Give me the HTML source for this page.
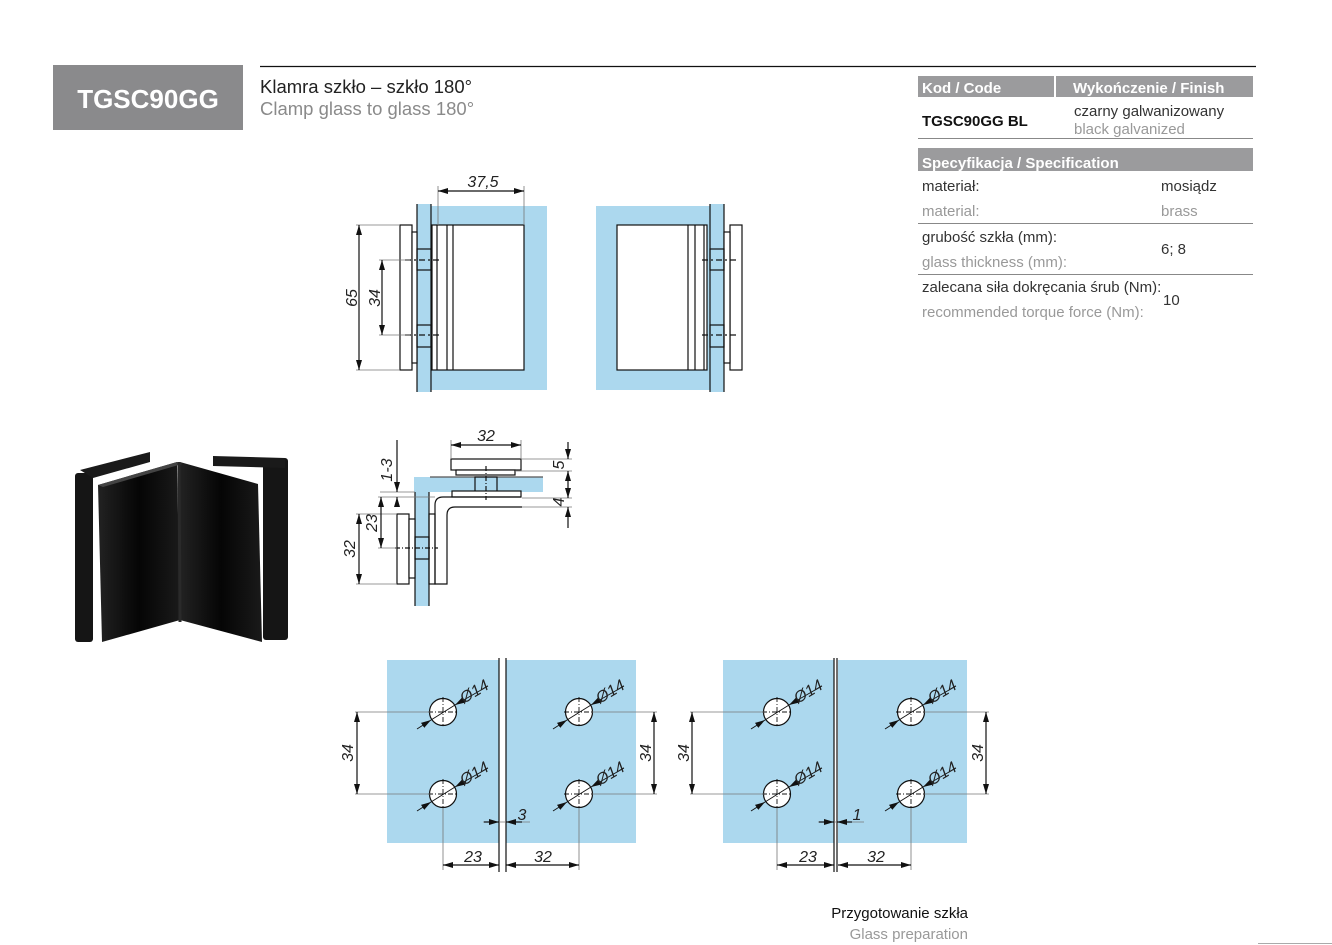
<!DOCTYPE html>
<html><head><meta charset="utf-8"><style>
html,body{margin:0;padding:0;background:#fff;}
svg{display:block;}
text{font-family:"Liberation Sans",sans-serif;}
.d{font-style:italic;font-size:16px;fill:#222;}
</style></head><body>
<svg width="1332" height="945" viewBox="0 0 1332 945" xmlns="http://www.w3.org/2000/svg">
<defs>
<marker id="a" markerWidth="10" markerHeight="6" refX="10" refY="3" orient="auto-start-reverse" markerUnits="userSpaceOnUse"><path d="M0,0 L10,3 L0,6 z" fill="#111"/></marker>
<linearGradient id="g1" x1="0" x2="1"><stop offset="0" stop-color="#222"/><stop offset="0.5" stop-color="#050505"/><stop offset="1" stop-color="#1a1a1a"/></linearGradient>
</defs>
<!-- header -->
<line x1="260" y1="66.5" x2="1256" y2="66.5" stroke="#111" stroke-width="1.2"/>
<rect x="53" y="65" width="190" height="65" fill="#8a8a8c"/>
<text x="148" y="108" font-size="26" font-weight="bold" fill="#fff" text-anchor="middle">TGSC90GG</text>
<text x="260" y="93" font-size="18.5" fill="#222">Klamra szkło – szkło 180°</text>
<text x="260" y="115" font-size="18.5" fill="#8a8a8a">Clamp glass to glass 180°</text>
<!-- table -->
<rect x="918" y="76" width="335" height="21" fill="#9b9b9d"/>
<rect x="1054" y="76" width="2" height="21" fill="#fff"/>
<text x="922" y="93" font-size="15" font-weight="bold" fill="#fff">Kod / Code</text>
<text x="1073" y="93" font-size="15" font-weight="bold" fill="#fff">Wykończenie / Finish</text>
<text x="922" y="126" font-size="15" font-weight="bold" fill="#111">TGSC90GG BL</text>
<text x="1074" y="116" font-size="15" fill="#333">czarny galwanizowany</text>
<text x="1074" y="134" font-size="15" fill="#999">black galvanized</text>
<line x1="918" y1="138.5" x2="1253" y2="138.5" stroke="#888"/>
<rect x="918" y="148" width="335" height="23" fill="#9b9b9d"/>
<text x="922" y="168" font-size="15" font-weight="bold" fill="#fff">Specyfikacja / Specification</text>
<g font-size="15">
<text x="922" y="191" fill="#333">materiał:</text><text x="1161" y="191" fill="#333">mosiądz</text>
<text x="922" y="216" fill="#999">material:</text><text x="1161" y="216" fill="#999">brass</text>
<text x="922" y="242" fill="#333">grubość szkła (mm):</text><text x="1161" y="254" fill="#333">6; 8</text>
<text x="922" y="267" fill="#999">glass thickness (mm):</text>
<text x="922" y="292" fill="#333">zalecana siła dokręcania śrub (Nm):</text><text x="1163" y="305" fill="#333">10</text>
<text x="922" y="317" fill="#999">recommended torque force (Nm):</text>
</g>
<line x1="918" y1="223.5" x2="1253" y2="223.5" stroke="#888"/>
<line x1="918" y1="274.5" x2="1253" y2="274.5" stroke="#888"/>

<!-- front view left -->
<g stroke="#111" stroke-width="1.2" fill="none">
<rect x="431" y="206" width="116" height="184" fill="#acd8ee" stroke="none"/>
<rect x="417" y="204" width="14" height="188" fill="#acd8ee" stroke="none"/>
<line x1="417" y1="204" x2="417" y2="392"/><line x1="431" y1="204" x2="431" y2="392"/>
<rect x="432" y="225" width="92" height="145" fill="#fff"/>
<line x1="437" y1="225" x2="437" y2="370"/><line x1="447" y1="225" x2="447" y2="370"/><line x1="453" y1="225" x2="453" y2="370"/>
<rect x="400" y="225" width="12" height="145" fill="#fff"/>
<rect x="412" y="232" width="5" height="131" fill="#fff"/>
<rect x="417" y="249" width="14" height="21"/><rect x="417" y="325" width="14" height="22"/>
<line x1="405" y1="260" x2="442" y2="260" stroke-dasharray="6,3,2,3"/>
<line x1="405" y1="335" x2="442" y2="335" stroke-dasharray="6,3,2,3"/>
<g stroke="#777" stroke-width="0.8"><line x1="356" y1="225" x2="400" y2="225"/><line x1="356" y1="370" x2="400" y2="370"/>
<line x1="379" y1="260" x2="410" y2="260"/><line x1="379" y1="335" x2="410" y2="335"/>
<line x1="438" y1="186" x2="438" y2="225"/><line x1="524" y1="186" x2="524" y2="225"/></g>
<line x1="359" y1="225" x2="359" y2="370" marker-start="url(#a)" marker-end="url(#a)"/>
<line x1="382" y1="260" x2="382" y2="335" marker-start="url(#a)" marker-end="url(#a)"/>
<line x1="438" y1="191" x2="524" y2="191" marker-start="url(#a)" marker-end="url(#a)"/>
</g>
<text class="d" transform="translate(357,298) rotate(-90)" text-anchor="middle">65</text>
<text class="d" transform="translate(380,298) rotate(-90)" text-anchor="middle">34</text>
<text class="d" x="483" y="187" text-anchor="middle">37,5</text>

<!-- front view right -->
<g stroke="#111" stroke-width="1.2" fill="none">
<rect x="596" y="206" width="114" height="184" fill="#acd8ee" stroke="none"/>
<rect x="710" y="204" width="14" height="188" fill="#acd8ee" stroke="none"/>
<line x1="710" y1="204" x2="710" y2="392"/><line x1="724" y1="204" x2="724" y2="392"/>
<rect x="617" y="225" width="90" height="145" fill="#fff"/>
<line x1="688" y1="225" x2="688" y2="370"/><line x1="695" y1="225" x2="695" y2="370"/><line x1="704" y1="225" x2="704" y2="370"/>
<rect x="730" y="225" width="12" height="145" fill="#fff"/>
<rect x="724" y="232" width="6" height="131" fill="#fff"/>
<rect x="710" y="249" width="14" height="21"/><rect x="710" y="325" width="14" height="22"/>
<line x1="702" y1="260" x2="736" y2="260" stroke-dasharray="6,3,2,3"/>
<line x1="702" y1="335" x2="736" y2="335" stroke-dasharray="6,3,2,3"/>
</g>

<!-- side view -->
<g stroke="#111" stroke-width="1.2" fill="none">
<rect x="414" y="477" width="129" height="15" fill="#acd8ee" stroke="none"/>
<line x1="430" y1="477" x2="543" y2="477" stroke="#555"/>
<rect x="415" y="492" width="14" height="114" fill="#acd8ee" stroke="none"/>
<line x1="415" y1="492" x2="415" y2="606"/><line x1="429" y1="492" x2="429" y2="606"/>
<rect x="475" y="477" width="22" height="15"/>
<rect x="451" y="459" width="70" height="11" fill="#fff"/>
<rect x="456" y="470" width="59" height="5" fill="#fff"/>
<rect x="452" y="491" width="69" height="6" fill="#fff"/>
<path d="M521,497 L443,497 Q435,497 435,505 L435,584 L447,584 L447,515 Q447,507 455,507 L522,507"/>
<rect x="397" y="514" width="12" height="70" fill="#fff"/>
<rect x="409" y="519" width="6" height="59" fill="#fff"/>
<rect x="415" y="537" width="14" height="22"/>
<rect x="429" y="514" width="6" height="70"/>
<line x1="486" y1="466" x2="486" y2="500" stroke-dasharray="5,2,1,2"/>
<line x1="395" y1="548" x2="438" y2="548" stroke-dasharray="5,2,1,2"/>
<g stroke="#777" stroke-width="0.8">
<line x1="451" y1="440" x2="451" y2="459"/><line x1="521" y1="440" x2="521" y2="459"/>
<line x1="521" y1="459" x2="572" y2="459"/><line x1="515" y1="471" x2="572" y2="471"/>
<line x1="522" y1="498" x2="572" y2="498"/><line x1="522" y1="507" x2="572" y2="507"/>
<line x1="380" y1="492" x2="415" y2="492"/><line x1="378" y1="497" x2="435" y2="497"/>
<line x1="356" y1="514" x2="397" y2="514"/><line x1="356" y1="584" x2="397" y2="584"/>
<line x1="378" y1="548" x2="397" y2="548"/>
</g>
<line x1="451" y1="445" x2="521" y2="445" marker-start="url(#a)" marker-end="url(#a)"/>
<line x1="568" y1="442" x2="568" y2="459" marker-end="url(#a)"/>
<line x1="568" y1="471" x2="568" y2="498" marker-start="url(#a)" marker-end="url(#a)"/>
<line x1="568" y1="507" x2="568" y2="528" marker-start="url(#a)"/>
<line x1="397" y1="440" x2="397" y2="492" marker-end="url(#a)"/>
<line x1="397" y1="497" x2="397" y2="507" marker-start="url(#a)"/>
<line x1="381" y1="497" x2="381" y2="548" marker-start="url(#a)" marker-end="url(#a)"/>
<line x1="359" y1="514" x2="359" y2="584" marker-start="url(#a)" marker-end="url(#a)"/>
</g>
<text class="d" x="486" y="441" text-anchor="middle">32</text>
<text class="d" transform="translate(564,465) rotate(-90)" text-anchor="middle">5</text>
<text class="d" transform="translate(564,502) rotate(-90)" text-anchor="middle">4</text>
<text class="d" transform="translate(392,470) rotate(-90)" text-anchor="middle">1-3</text>
<text class="d" transform="translate(377,523) rotate(-90)" text-anchor="middle">23</text>
<text class="d" transform="translate(355,549) rotate(-90)" text-anchor="middle">32</text>

<!-- photo -->
<g>
<rect x="75" y="473" width="18" height="169" rx="3" fill="#151515"/>
<rect x="263" y="458" width="25" height="182" rx="3" fill="#151515"/>
<polygon points="80,470 150,452 150,462 93,478" fill="#1a1a1a"/>
<polygon points="213,456 285,458 285,468 213,466" fill="#1a1a1a"/>
<polygon points="98,485 177,462 180,620 102,642" fill="url(#g1)"/>
<polygon points="180,462 258,484 262,642 180,620" fill="url(#g1)"/>
<polygon points="98,485 177,462 182,464 103,487" fill="#444"/>
<line x1="179" y1="462" x2="180" y2="622" stroke="#2a2a2a" stroke-width="3"/>
</g>

<!-- hole diagram 1 -->
<g stroke="#111" stroke-width="1.2" fill="none">
<rect x="387" y="660" width="112" height="183" fill="#acd8ee" stroke="none"/>
<rect x="506" y="660" width="130" height="183" fill="#acd8ee" stroke="none"/>
<line x1="499" y1="658" x2="499" y2="872"/><line x1="506" y1="658" x2="506" y2="872"/>
<g fill="#fff"><circle cx="443" cy="712" r="13.5"/><circle cx="443" cy="794" r="13.5"/><circle cx="579" cy="712" r="13.5"/><circle cx="579" cy="794" r="13.5"/></g>
<g stroke-dasharray="5,2,1,2" stroke-width="0.9">
<line x1="428" y1="712" x2="458" y2="712"/><line x1="443" y1="697" x2="443" y2="727"/>
<line x1="428" y1="794" x2="458" y2="794"/><line x1="443" y1="779" x2="443" y2="809"/>
<line x1="564" y1="712" x2="594" y2="712"/><line x1="579" y1="697" x2="579" y2="727"/>
<line x1="564" y1="794" x2="594" y2="794"/><line x1="579" y1="779" x2="579" y2="809"/>
</g>
<g stroke-width="0.9">
<line x1="417" y1="729" x2="431" y2="720" marker-end="url(#a)"/><line x1="488" y1="686" x2="455" y2="705" marker-end="url(#a)"/><line x1="431" y1="720" x2="455" y2="705"/>
<line x1="417" y1="811" x2="431" y2="802" marker-end="url(#a)"/><line x1="488" y1="768" x2="455" y2="787" marker-end="url(#a)"/><line x1="431" y1="802" x2="455" y2="787"/>
<line x1="553" y1="729" x2="567" y2="720" marker-end="url(#a)"/><line x1="624" y1="686" x2="591" y2="705" marker-end="url(#a)"/><line x1="567" y1="720" x2="591" y2="705"/>
<line x1="553" y1="811" x2="567" y2="802" marker-end="url(#a)"/><line x1="624" y1="768" x2="591" y2="787" marker-end="url(#a)"/><line x1="567" y1="802" x2="591" y2="787"/>
</g>
<g stroke="#777" stroke-width="0.8">
<line x1="355" y1="712" x2="430" y2="712"/><line x1="355" y1="794" x2="430" y2="794"/>
<line x1="592" y1="712" x2="657" y2="712"/><line x1="592" y1="794" x2="657" y2="794"/>
<line x1="443" y1="808" x2="443" y2="870"/><line x1="579" y1="808" x2="579" y2="870"/>
<line x1="483" y1="822" x2="530" y2="822"/>
</g>
<line x1="357" y1="712" x2="357" y2="794" marker-start="url(#a)" marker-end="url(#a)"/>
<line x1="654" y1="712" x2="654" y2="794" marker-start="url(#a)" marker-end="url(#a)"/>
<line x1="443" y1="865" x2="499" y2="865" marker-start="url(#a)" marker-end="url(#a)"/>
<line x1="506" y1="865" x2="579" y2="865" marker-start="url(#a)" marker-end="url(#a)"/>
<line x1="484" y1="822" x2="499" y2="822" marker-end="url(#a)"/>
<line x1="522" y1="822" x2="506" y2="822" marker-end="url(#a)"/>
</g>
<text class="d" transform="translate(477,696) rotate(-31)" text-anchor="middle">Ø14</text>
<text class="d" transform="translate(477,778) rotate(-31)" text-anchor="middle">Ø14</text>
<text class="d" transform="translate(613,696) rotate(-31)" text-anchor="middle">Ø14</text>
<text class="d" transform="translate(613,778) rotate(-31)" text-anchor="middle">Ø14</text>
<text class="d" transform="translate(353,753) rotate(-90)" text-anchor="middle">34</text>
<text class="d" transform="translate(651,753) rotate(-90)" text-anchor="middle">34</text>
<text class="d" x="473" y="862" text-anchor="middle">23</text>
<text class="d" x="543" y="862" text-anchor="middle">32</text>
<text class="d" x="522" y="820" text-anchor="middle">3</text>

<!-- hole diagram 2 -->
<g stroke="#111" stroke-width="1.2" fill="none">
<rect x="723" y="660" width="111" height="183" fill="#acd8ee" stroke="none"/>
<rect x="838" y="660" width="129" height="183" fill="#acd8ee" stroke="none"/>
<line x1="834" y1="658" x2="834" y2="872"/><line x1="837" y1="658" x2="837" y2="872"/>
<g fill="#fff"><circle cx="777" cy="712" r="13.5"/><circle cx="777" cy="794" r="13.5"/><circle cx="911" cy="712" r="13.5"/><circle cx="911" cy="794" r="13.5"/></g>
<g stroke-dasharray="5,2,1,2" stroke-width="0.9">
<line x1="762" y1="712" x2="792" y2="712"/><line x1="777" y1="697" x2="777" y2="727"/>
<line x1="762" y1="794" x2="792" y2="794"/><line x1="777" y1="779" x2="777" y2="809"/>
<line x1="896" y1="712" x2="926" y2="712"/><line x1="911" y1="697" x2="911" y2="727"/>
<line x1="896" y1="794" x2="926" y2="794"/><line x1="911" y1="779" x2="911" y2="809"/>
</g>
<g stroke-width="0.9">
<line x1="751" y1="729" x2="765" y2="720" marker-end="url(#a)"/><line x1="822" y1="686" x2="789" y2="705" marker-end="url(#a)"/><line x1="765" y1="720" x2="789" y2="705"/>
<line x1="751" y1="811" x2="765" y2="802" marker-end="url(#a)"/><line x1="822" y1="768" x2="789" y2="787" marker-end="url(#a)"/><line x1="765" y1="802" x2="789" y2="787"/>
<line x1="885" y1="729" x2="899" y2="720" marker-end="url(#a)"/><line x1="956" y1="686" x2="923" y2="705" marker-end="url(#a)"/><line x1="899" y1="720" x2="923" y2="705"/>
<line x1="885" y1="811" x2="899" y2="802" marker-end="url(#a)"/><line x1="956" y1="768" x2="923" y2="787" marker-end="url(#a)"/><line x1="899" y1="802" x2="923" y2="787"/>
</g>
<g stroke="#777" stroke-width="0.8">
<line x1="690" y1="712" x2="764" y2="712"/><line x1="690" y1="794" x2="764" y2="794"/>
<line x1="924" y1="712" x2="989" y2="712"/><line x1="924" y1="794" x2="989" y2="794"/>
<line x1="777" y1="808" x2="777" y2="870"/><line x1="911" y1="808" x2="911" y2="870"/>
<line x1="818" y1="822" x2="864" y2="822"/>
</g>
<line x1="692" y1="712" x2="692" y2="794" marker-start="url(#a)" marker-end="url(#a)"/>
<line x1="986" y1="712" x2="986" y2="794" marker-start="url(#a)" marker-end="url(#a)"/>
<line x1="777" y1="865" x2="834" y2="865" marker-start="url(#a)" marker-end="url(#a)"/>
<line x1="838" y1="865" x2="911" y2="865" marker-start="url(#a)" marker-end="url(#a)"/>
<line x1="819" y1="822" x2="834" y2="822" marker-end="url(#a)"/>
<line x1="852" y1="822" x2="837" y2="822" marker-end="url(#a)"/>
</g>
<text class="d" transform="translate(811,696) rotate(-31)" text-anchor="middle">Ø14</text>
<text class="d" transform="translate(811,778) rotate(-31)" text-anchor="middle">Ø14</text>
<text class="d" transform="translate(945,696) rotate(-31)" text-anchor="middle">Ø14</text>
<text class="d" transform="translate(945,778) rotate(-31)" text-anchor="middle">Ø14</text>
<text class="d" transform="translate(689,753) rotate(-90)" text-anchor="middle">34</text>
<text class="d" transform="translate(983,753) rotate(-90)" text-anchor="middle">34</text>
<text class="d" x="808" y="862" text-anchor="middle">23</text>
<text class="d" x="876" y="862" text-anchor="middle">32</text>
<text class="d" x="857" y="820" text-anchor="middle">1</text>

<text x="968" y="918" font-size="15" fill="#111" text-anchor="end">Przygotowanie szkła</text>
<text x="968" y="939" font-size="15" fill="#999" text-anchor="end">Glass preparation</text>
<line x1="1258" y1="943.5" x2="1332" y2="943.5" stroke="#aaa"/>
</svg>
</body></html>
